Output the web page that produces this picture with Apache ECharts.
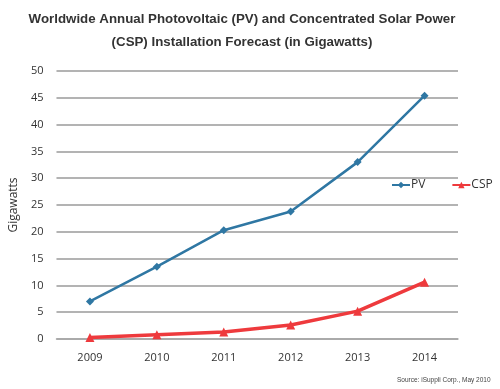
<!DOCTYPE html>
<html><head><meta charset="utf-8">
<script src="https://cdn.jsdelivr.net/npm/echarts@6/dist/echarts.min.js"></script>
<style>html,body{margin:0;padding:0;background:#fff}#c{width:500px;height:389px}</style>
</head><body><div id="c"></div>
<script>
const years = ['2009','2010','2011','2012','2013','2014'];
const pv = [7.0, 13.5, 20.3, 23.8, 33.0, 45.4];
const csp = [0.3, 0.8, 1.3, 2.6, 5.2, 10.6];
const yTicks = {min: 0, max: 50, interval: 5};

const chart = echarts.init(document.getElementById('c'), null, {renderer: 'canvas'});
chart.setOption({
  animation: false,
  backgroundColor: '#fff',
  title: [{
    text: 'Worldwide Annual Photovoltaic (PV) and Concentrated Solar Power\n(CSP) Installation Forecast (in Gigawatts)',
    left: 237, top: 3, textAlign: 'center',
    textStyle: {fontFamily: 'Liberation Sans, Arial', fontSize: 13.3, fontWeight: 'bold', color: '#333', lineHeight: 23}
  }, {
    text: 'Source: iSuppli Corp., May 2010',
    left: 392, top: 372,
    textStyle: {fontFamily: 'Liberation Sans, Arial', fontSize: 6.5, fontWeight: 'normal', color: '#444'}
  }],
  legend: {
    data: ['PV', 'CSP'],
    orient: 'horizontal', left: 386, top: 174,
    itemWidth: 18, itemHeight: 8, itemGap: 26,
    textStyle: {fontFamily: 'Open Sans, DejaVu Sans', fontSize: 12, color: '#333', padding: [0,0,0,-4]}
  },
  grid: {left: 53, right: 42, top: 71, bottom: 50},
  xAxis: {
    type: 'category', data: years, boundaryGap: true,
    axisLine: {show: true, lineStyle: {color: '#a8a8a8', width: 1.5}},
    axisTick: {show: false},
    axisLabel: {color: '#333', fontFamily: 'Open Sans, DejaVu Sans', fontSize: 11, margin: 13}
  },
  yAxis: {
    type: 'value', min: yTicks.min, max: yTicks.max, interval: yTicks.interval,
    name: 'Gigawatts', nameLocation: 'middle', nameGap: 32, nameRotate: 90,
    nameTextStyle: {color: '#333', fontFamily: 'Open Sans, DejaVu Sans', fontSize: 12},
    axisLine: {show: false}, axisTick: {show: false},
    axisLabel: {color: '#333', fontFamily: 'Open Sans, DejaVu Sans', fontSize: 11, margin: 13},
    splitLine: {lineStyle: {color: '#9a9a9a', width: 1.5}}
  },
  series: [{
    name: 'PV', type: 'line', data: pv,
    symbol: 'diamond', symbolSize: 8,
    lineStyle: {color: '#2f77a3', width: 2.5},
    itemStyle: {color: '#2f77a3'}
  }, {
    name: 'CSP', type: 'line', data: csp,
    symbol: 'triangle', symbolSize: 9,
    lineStyle: {color: '#ee3a3d', width: 3.5},
    itemStyle: {color: '#ee3a3d'}
  }]
});
</script></body></html>
